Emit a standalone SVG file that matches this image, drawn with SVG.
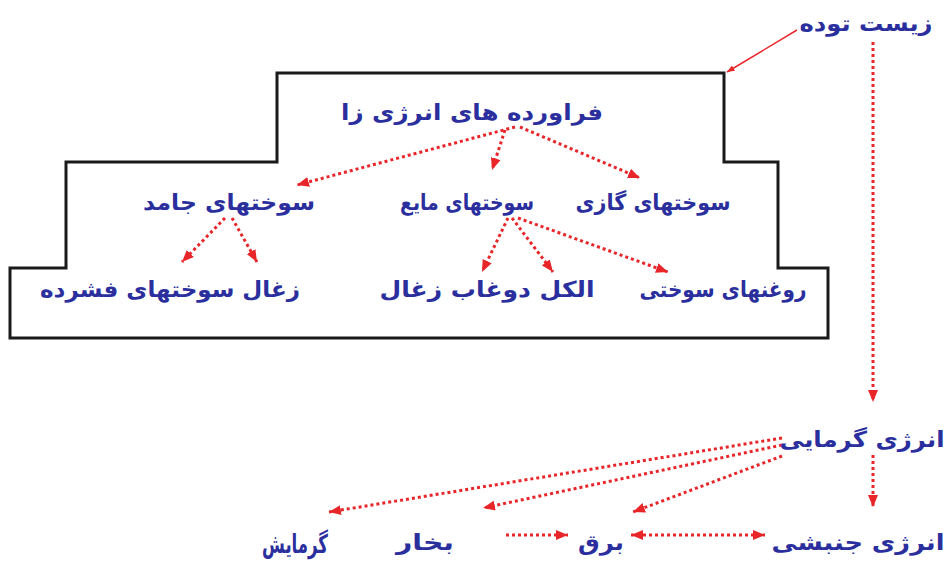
<svg xmlns="http://www.w3.org/2000/svg" width="951" height="569" viewBox="0 0 951 569">
<defs>
<style>
.t{font-family:"DejaVu Sans","Noto Sans",sans-serif;font-weight:bold;font-size:22px;fill:#2b2f9e;text-anchor:middle}
.d{fill:none;stroke:#e8262a;stroke-width:3;stroke-dasharray:3 3}
.s{fill:none;stroke:#e8262a;stroke-width:1.5}
.box{fill:#fff;stroke:#1a1a1a;stroke-width:3}
</style>
<marker id="ah" viewBox="0 0 12 10" refX="12" refY="5" markerWidth="12" markerHeight="10" markerUnits="userSpaceOnUse" orient="auto-start-reverse">
<path d="M0,0 L12,5 L0,10 z" fill="#e8262a"/>
</marker>
<marker id="ahs" viewBox="0 0 10 8" refX="10" refY="4" markerWidth="8" markerHeight="6" markerUnits="userSpaceOnUse" orient="auto">
<path d="M0,0 L10,4 L0,8 z" fill="#e8262a"/>
</marker>
</defs>
<rect width="951" height="569" fill="#fff"/>
<g id="outline"><path class="box" d="M10,268 H66 V162 H277 V73 H724 V162 H778 V268 H828 V338 H10 Z"/></g>
<g id="connectors">
<line class="s" x1="797" y1="30" x2="727" y2="72" marker-end="url(#ahs)"/>
<line class="d" x1="873" y1="42" x2="873" y2="402" marker-end="url(#ah)"/>
<line class="d" x1="515" y1="127" x2="297" y2="185" marker-end="url(#ah)"/>
<line class="d" x1="505" y1="130" x2="492" y2="170" marker-end="url(#ah)"/>
<line class="d" x1="520" y1="127" x2="640" y2="178" marker-end="url(#ah)"/>
<line class="d" x1="225" y1="218" x2="182" y2="262" marker-end="url(#ah)"/>
<line class="d" x1="232" y1="218" x2="257" y2="262" marker-end="url(#ah)"/>
<line class="d" x1="508" y1="218" x2="482" y2="272" marker-end="url(#ah)"/>
<line class="d" x1="512" y1="218" x2="553" y2="272" marker-end="url(#ah)"/>
<line class="d" x1="518" y1="218" x2="668" y2="272" marker-end="url(#ah)"/>
<line class="d" x1="873" y1="455" x2="873" y2="507" marker-end="url(#ah)"/>
<line class="d" x1="782" y1="438" x2="329" y2="512" marker-end="url(#ah)"/>
<line class="d" x1="782" y1="445" x2="483" y2="508" marker-end="url(#ah)"/>
<line class="d" x1="782" y1="456" x2="633" y2="512" marker-end="url(#ah)"/>
<line class="d" x1="506" y1="535" x2="568" y2="535" marker-end="url(#ah)"/>
<line class="d" x1="631" y1="535" x2="765" y2="535" marker-start="url(#ah)" marker-end="url(#ah)"/>
</g>
<g id="n-zist"><text class="t" x="866" y="31" textLength="133" lengthAdjust="spacingAndGlyphs">زیست توده</text></g>
<g id="n-faravarde"><text class="t" x="472" y="120" textLength="262" lengthAdjust="spacingAndGlyphs">فراورده های انرژی زا</text></g>
<g id="n-jamed"><text class="t" x="229" y="210" textLength="172" lengthAdjust="spacingAndGlyphs">سوختهای جامد</text></g>
<g id="n-mayea"><text class="t" x="467" y="210" textLength="134" lengthAdjust="spacingAndGlyphs">سوختهای مایع</text></g>
<g id="n-gazi"><text class="t" x="653" y="210" textLength="155" lengthAdjust="spacingAndGlyphs">سوختهای گازی</text></g>
<g id="n-fashorde"><text class="t" x="170" y="297" textLength="260" lengthAdjust="spacingAndGlyphs">زغال سوختهای فشرده</text></g>
<g id="n-dooghab"><text class="t" x="487" y="297" textLength="215" lengthAdjust="spacingAndGlyphs">الکل دوغاب زغال</text></g>
<g id="n-roghan"><text class="t" x="723" y="297" textLength="167" lengthAdjust="spacingAndGlyphs">روغنهای سوختی</text></g>
<g id="n-garmayi"><text class="t" x="862" y="447" textLength="165" lengthAdjust="spacingAndGlyphs">انرژی گرمایی</text></g>
<g id="n-jonbeshi"><text class="t" x="858" y="550" textLength="173" lengthAdjust="spacingAndGlyphs">انرژی جنبشی</text></g>
<g id="n-bargh"><text class="t" x="601" y="550" textLength="46" lengthAdjust="spacingAndGlyphs">برق</text></g>
<g id="n-bokhar"><text class="t" x="425" y="550" textLength="58" lengthAdjust="spacingAndGlyphs">بخار</text></g>
<g id="n-garmayesh"><text class="t" x="295" y="553" style="font-size:26px" textLength="66" lengthAdjust="spacingAndGlyphs">گرمایش</text></g>
</svg>
